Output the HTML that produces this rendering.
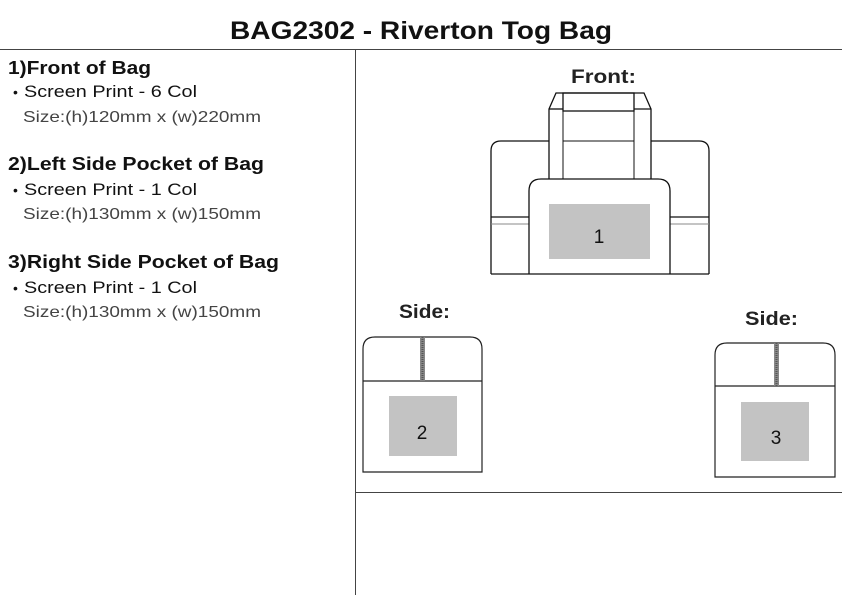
<!DOCTYPE html>
<html><head><meta charset="utf-8"><style>
html,body{margin:0;padding:0;background:#fff;}
svg{display:block;font-family:"Liberation Sans",Arial,sans-serif;}
</style></head><body>
<svg width="842" height="595" viewBox="0 0 842 595" xmlns="http://www.w3.org/2000/svg">
<rect width="842" height="595" fill="#fff"/>
<text x="230" y="39" font-size="25" font-weight="bold" fill="#111" textLength="382" lengthAdjust="spacingAndGlyphs">BAG2302 - Riverton Tog Bag</text>
<line x1="0" y1="49.5" x2="842" y2="49.5" stroke="#444" stroke-width="1"/>
<line x1="355.5" y1="50" x2="355.5" y2="595" stroke="#444" stroke-width="1"/>
<line x1="355" y1="492.5" x2="842" y2="492.5" stroke="#444" stroke-width="1"/>

<g fill="#111">
<text x="8" y="74" font-size="18.5" font-weight="bold" textLength="143" lengthAdjust="spacingAndGlyphs">1)Front of Bag</text>
<text x="13" y="97" font-size="14">•</text><text x="24" y="97" font-size="17" textLength="173" lengthAdjust="spacingAndGlyphs">Screen Print - 6 Col</text>
<text x="23" y="122" font-size="16" fill="#444" textLength="238" lengthAdjust="spacingAndGlyphs">Size:(h)120mm x (w)220mm</text>
<text x="8" y="170" font-size="18.5" font-weight="bold" textLength="256" lengthAdjust="spacingAndGlyphs">2)Left Side Pocket of Bag</text>
<text x="13" y="195" font-size="14">•</text><text x="24" y="195" font-size="17" textLength="173" lengthAdjust="spacingAndGlyphs">Screen Print - 1 Col</text>
<text x="23" y="219" font-size="16" fill="#444" textLength="238" lengthAdjust="spacingAndGlyphs">Size:(h)130mm x (w)150mm</text>
<text x="8" y="268" font-size="18.5" font-weight="bold" textLength="271" lengthAdjust="spacingAndGlyphs">3)Right Side Pocket of Bag</text>
<text x="13" y="293" font-size="14">•</text><text x="24" y="293" font-size="17" textLength="173" lengthAdjust="spacingAndGlyphs">Screen Print - 1 Col</text>
<text x="23" y="317" font-size="16" fill="#444" textLength="238" lengthAdjust="spacingAndGlyphs">Size:(h)130mm x (w)150mm</text>
</g>

<text x="571" y="83" font-size="19" font-weight="bold" fill="#222" textLength="65" lengthAdjust="spacingAndGlyphs">Front:</text>
<text x="399" y="318" font-size="19" font-weight="bold" fill="#222" textLength="51" lengthAdjust="spacingAndGlyphs">Side:</text>
<text x="745" y="325" font-size="19" font-weight="bold" fill="#222" textLength="53" lengthAdjust="spacingAndGlyphs">Side:</text>

<g fill="none" stroke="#111" stroke-width="1.3">
<path d="M491,274 V151 Q491,141 501,141 H549"/>
<path d="M651,141 H699 Q709,141 709,151 V274"/>
<line x1="491" y1="274" x2="709" y2="274"/>
<path d="M549,179 V109 L556,93 H644 L651,109 V179"/>
<line x1="549" y1="109" x2="563" y2="109"/>
<line x1="634" y1="109" x2="651" y2="109"/>
<rect x="563" y="93" width="71" height="18"/>
<line x1="563" y1="111" x2="563" y2="179" stroke-width="1"/>
<line x1="634" y1="111" x2="634" y2="179" stroke-width="1"/>
<line x1="563" y1="141" x2="634" y2="141" stroke-width="1"/>
<line x1="491" y1="217" x2="529" y2="217"/>
<line x1="670" y1="217" x2="709" y2="217"/>
<line x1="491" y1="224" x2="529" y2="224" stroke="#888" stroke-width="1"/>
<line x1="670" y1="224" x2="709" y2="224" stroke="#888" stroke-width="1"/>
<path d="M529,274 V191 Q529,179 541,179 H658 Q670,179 670,191 V274"/>
</g>
<rect x="549" y="204" width="101" height="55" fill="#c3c3c3"/>
<text x="599" y="243" text-anchor="middle" font-size="19" fill="#111">1</text>

<g fill="none" stroke="#222" stroke-width="1.2">
<path d="M363,472 V349 Q363,337 375,337 H470 Q482,337 482,349 V472 Z"/>
<line x1="363" y1="381" x2="482" y2="381"/>
</g>
<rect x="420" y="337" width="5" height="44" fill="#888"/>
<line x1="422.5" y1="337" x2="422.5" y2="381" stroke="#555" stroke-width="2" stroke-dasharray="1 1"/>
<rect x="389" y="396" width="68" height="60" fill="#c3c3c3"/>
<text x="422" y="439" text-anchor="middle" font-size="19" fill="#111">2</text>

<g fill="none" stroke="#222" stroke-width="1.2">
<path d="M715,477 V355 Q715,343 727,343 H823 Q835,343 835,355 V477 Z"/>
<line x1="715" y1="386" x2="835" y2="386"/>
</g>
<rect x="774" y="343" width="5" height="43" fill="#888"/>
<line x1="776.5" y1="343" x2="776.5" y2="386" stroke="#555" stroke-width="2" stroke-dasharray="1 1"/>
<rect x="741" y="402" width="68" height="59" fill="#c3c3c3"/>
<text x="776" y="444" text-anchor="middle" font-size="19" fill="#111">3</text>
</svg>
</body></html>
